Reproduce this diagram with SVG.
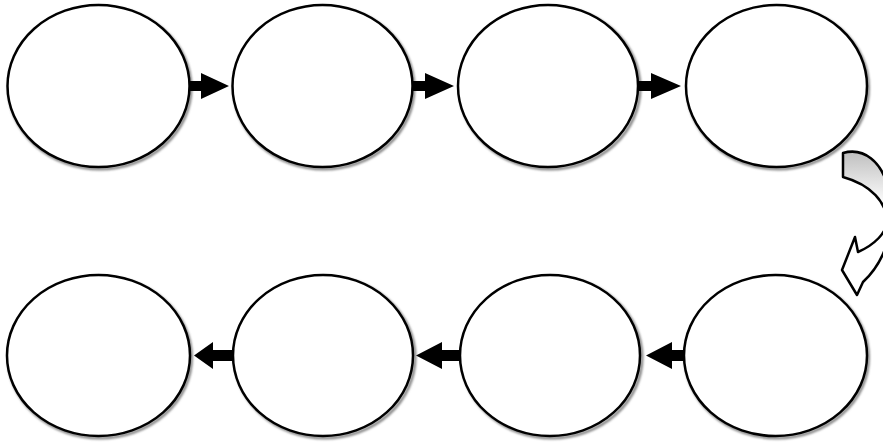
<svg xmlns="http://www.w3.org/2000/svg" width="883" height="444" viewBox="0 0 883 444">
<style>
.node{fill:#ffffff;stroke:#000000;stroke-width:2.5}
.shadow{fill:none;stroke:#888888;stroke-width:3;filter:url(#blur)}
.arr{fill:#000000;stroke:none}
.curve{fill:url(#cg);stroke:#000000;stroke-width:2.5;stroke-linejoin:round}
</style>
<defs>
<filter id="blur" x="-10%" y="-10%" width="120%" height="120%"><feGaussianBlur stdDeviation="1"/></filter>
<linearGradient id="cg" gradientUnits="userSpaceOnUse" x1="860" y1="150" x2="860" y2="205">
<stop offset="0" stop-color="#bdbdbd"/>
<stop offset="1" stop-color="#ffffff"/>
</linearGradient>
</defs>
<rect width="883" height="444" fill="#ffffff"/>
<g id="n1"><ellipse class="shadow" cx="100" cy="88" rx="91" ry="81"/><ellipse class="node" cx="98.5" cy="86" rx="91" ry="81"/></g>
<g id="n2"><ellipse class="shadow" cx="324" cy="88" rx="90" ry="81"/><ellipse class="node" cx="322.5" cy="86" rx="90" ry="81"/></g>
<g id="n3"><ellipse class="shadow" cx="550" cy="88" rx="90" ry="81"/><ellipse class="node" cx="548" cy="86" rx="90" ry="81"/></g>
<g id="n4"><ellipse class="shadow" cx="778" cy="88" rx="90.5" ry="81"/><ellipse class="node" cx="776.5" cy="86" rx="90.5" ry="81"/></g>
<g id="n5"><ellipse class="shadow" cx="777" cy="357.5" rx="91.5" ry="80.5"/><ellipse class="node" cx="775.5" cy="355.5" rx="91.5" ry="80.5"/></g>
<g id="n6"><ellipse class="shadow" cx="552" cy="357.5" rx="90" ry="80.5"/><ellipse class="node" cx="550" cy="355.5" rx="90" ry="80.5"/></g>
<g id="n7"><ellipse class="shadow" cx="325" cy="357.5" rx="90" ry="80.5"/><ellipse class="node" cx="323" cy="355.5" rx="90" ry="80.5"/></g>
<g id="n8"><ellipse class="shadow" cx="100" cy="357.5" rx="91.5" ry="80.5"/><ellipse class="node" cx="98.5" cy="355.5" rx="91.5" ry="80.5"/></g>
<g id="connectors">
<path class="arr" d="M189,81 H201 V73 L229,86 L201,99 V91 H189 Z"/>
<path class="arr" d="M412,81 H425 V73 L454,86 L425,99 V91 H412 Z"/>
<path class="arr" d="M637,81 H651 V73 L681,86 L651,99 V91 H637 Z"/>
<path class="arr" d="M685,350 H672 V342 L646,355.5 L672,369 V361 H685 Z"/>
<path class="arr" d="M461,350 H442 V342 L416,355.5 L442,369 V361 H461 Z"/>
<path class="arr" d="M234,350 H213 V342 L194,355.5 L213,369 V361 H234 Z"/>
<path class="curve" d="M843,153 C864,147 882,162 888,188 C895,215 892,255 863,282 L857,295 L842,270 L855,237 L858,252 C874,245 887,233 887,220 C886,203 872,185 843,177 Z"/>
</g>
</svg>
